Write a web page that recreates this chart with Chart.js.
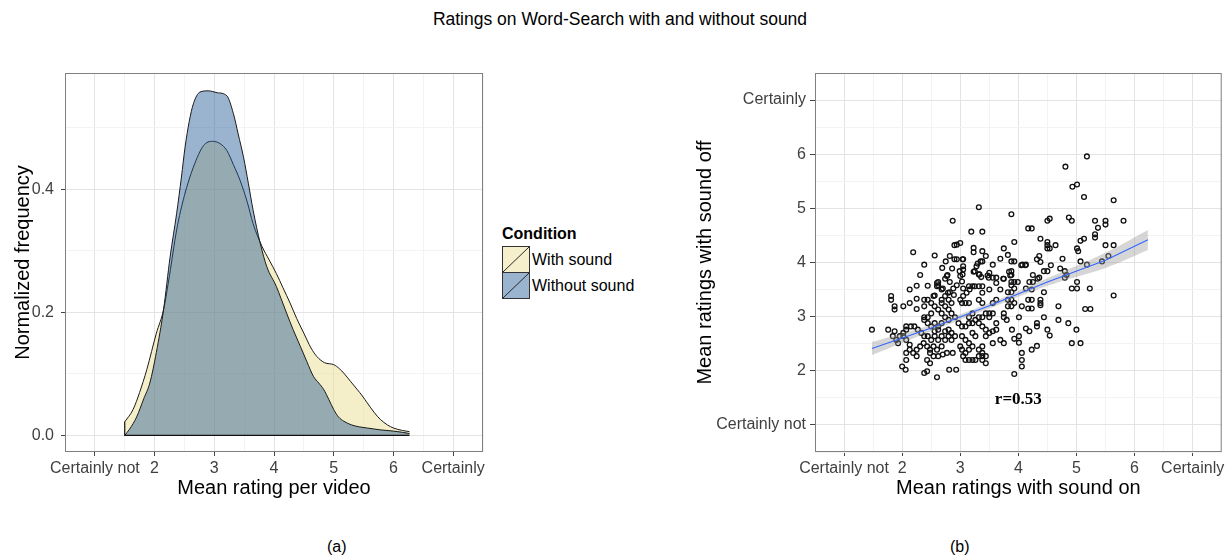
<!DOCTYPE html>
<html>
<head>
<meta charset="utf-8">
<script src="https://cdn.jsdelivr.net/npm/chart.js@4.4.1/dist/chart.umd.min.js"></script>
<style>
  body { margin: 0; background: #fff; font-family: "Liberation Sans", Arial, sans-serif; }
  #page { position: relative; width: 1227px; height: 557px; overflow: hidden; }
  canvas { position: absolute; top: 0; }
  .txt { position: absolute; white-space: nowrap; color: #000; }
  .key { position: absolute; left: 502px; width: 26px; height: 25px; border: 1px solid #333; }
</style>
</head>
<body>
<div id="page">
  <div class="txt" style="left:420px;width:400px;top:9px;text-align:center;font-size:17.5px;">Ratings on Word-Search with and without sound</div>
  <canvas id="chart_density" width="490" height="520" style="left:0px"></canvas>
  <canvas id="chart_scatter" width="547" height="520" style="left:680px"></canvas>

  <div class="txt" style="left:502px;top:225px;font-size:16px;font-weight:bold;">Condition</div>
  <div class="key" id="key_with" style="top:246px;"></div>
  <div class="key" id="key_without" style="top:272px;"></div>
  <div class="txt" style="left:532px;top:251px;font-size:16px;">With sound</div>
  <div class="txt" style="left:532px;top:277px;font-size:16px;">Without sound</div>

  <div class="txt" style="left:327px;top:538px;font-size:16px;">(a)</div>
  <div class="txt" style="left:950px;top:538px;font-size:16px;">(b)</div>
</div>
<script>
const FONT = '"Liberation Sans", Arial, sans-serif';

// density curves
const withSoundX = [1.5, 1.64, 1.75, 1.87, 2.03, 2.15, 2.25, 2.37, 2.5, 2.65, 2.82, 2.97, 3.1, 3.21, 3.32, 3.43, 3.55, 3.65, 3.8, 3.92,
  4.04, 4.15, 4.27, 4.38, 4.5, 4.62, 4.72, 4.85, 5.0, 5.1, 5.17, 5.28, 5.39, 5.48, 5.56, 5.68, 5.78, 5.9, 6.0, 6.15, 6.27];
const withSoundY = [0.022, 0.042, 0.07, 0.107, 0.166, 0.204, 0.26, 0.334, 0.39, 0.436, 0.471, 0.478, 0.474, 0.463, 0.44, 0.415, 0.38, 0.344, 0.307, 0.285,
  0.263, 0.24, 0.215, 0.19, 0.166, 0.142, 0.128, 0.118, 0.115, 0.108, 0.101, 0.088, 0.075, 0.064, 0.053, 0.037, 0.026, 0.017, 0.012, 0.008, 0.006];
const withoutSoundX = [1.5, 1.58, 1.7, 1.82, 1.92, 2.03, 2.15, 2.26, 2.37, 2.45, 2.51, 2.58, 2.65, 2.76, 2.9, 3.05, 3.21, 3.32, 3.4, 3.49,
  3.57, 3.65, 3.77, 3.88, 4.04, 4.12, 4.21, 4.32, 4.44, 4.55, 4.66, 4.75, 4.83, 4.92, 5.0, 5.08, 5.17, 5.3, 5.42, 5.56, 5.78, 6.0, 6.15, 6.27];
const withoutSoundY = [0, 0.01, 0.03, 0.06, 0.085, 0.135, 0.204, 0.29, 0.361, 0.42, 0.468, 0.51, 0.539, 0.558, 0.56, 0.557, 0.552, 0.523, 0.49, 0.452,
  0.41, 0.366, 0.312, 0.274, 0.242, 0.222, 0.199, 0.172, 0.145, 0.12, 0.096, 0.085, 0.075, 0.058, 0.042, 0.03, 0.023, 0.017, 0.014, 0.012, 0.009, 0.007, 0.005, 0.003];
const densityStart = 1.5;
const densityEnd = 6.27;

// tick labels (both panels use the same rating scale)
const ratingTicks = [1, 2, 3, 4, 5, 6, 7];
const ratingLabels = ['Certainly not', '2', '3', '4', '5', '6', 'Certainly'];
const ratingMinor = [0.5, 1.5, 2.5, 3.5, 4.5, 5.5, 6.5, 7.5];
const freqTicks = [0, 0.2, 0.4];
const freqLabels = ['0.0', '0.2', '0.4'];
const freqMinor = [0.1, 0.3, 0.5];

// scatter of mean ratings per video, panel (b)
const ratingsOn = [5.18,4.81,4.93,5.01,5.13,5.64,3.32,3.88,2.87,4.54,
  4.50,4.87,4.92,5.32,5.50,5.50,5.81,5.37,5.32,5.32,
  5.13,5.07,4.17,4.23,3.19,3.38,4.38,4.50,4.50,4.64,
  4.54,4.50,5.01,5.03,5.50,5.64,5.55,5.44,5.07,5.18,
  4.76,4.72,4.56,4.44,4.50,4.38,4.36,4.32,3.93,3.75,
  3.88,3.93,3.82,3.69,3.56,4.07,4.13,4.25,4.36,4.80,
  4.80,4.83,4.92,5.01,5.23,5.01,5.64,4.69,4.69,4.86,
  5.15,5.24,5.00,4.92,5.07,4.50,4.54,4.44,4.38,4.38,
  4.38,4.44,4.32,4.32,4.32,4.23,4.17,4.23,4.17,4.23,
  4.13,4.19,4.25,4.23,4.13,4.19,4.06,4.01,4.01,4.01,
  4.06,4.06,4.06,3.93,3.93,3.89,3.93,3.88,3.82,3.88,
  3.82,3.88,3.82,3.88,3.93,3.99,3.88,3.93,3.88,3.88,
  3.75,3.75,3.75,3.80,3.69,3.75,3.62,3.62,3.56,3.56,
  3.50,3.56,3.56,3.62,3.69,3.62,3.56,3.62,3.50,3.50,
  3.44,3.38,3.23,3.23,3.35,3.38,3.25,3.32,3.38,3.32,
  3.25,3.38,3.32,3.38,3.44,3.50,3.38,3.32,3.26,3.32,
  3.38,3.44,3.50,3.44,3.38,3.32,3.38,3.44,3.38,3.44,
  3.38,3.32,3.26,3.21,3.15,3.09,3.05,3.09,3.15,3.21,
  3.15,3.09,3.03,3.00,3.03,3.21,3.26,3.21,3.15,3.09,
  3.03,2.97,3.15,3.21,3.15,3.09,3.03,3.00,3.05,3.11,
  3.16,3.21,3.15,3.05,3.03,3.00,3.05,3.05,3.05,2.94,
  2.82,2.75,3.00,2.94,2.56,2.19,2.38,2.44,2.31,2.25,
  2.69,2.78,2.74,2.62,2.62,2.82,2.94,2.88,2.82,2.70,
  2.56,2.56,2.50,2.44,2.38,2.25,2.38,2.25,2.13,2.02,
  1.87,1.87,1.81,1.81,2.68,2.74,2.80,2.85,2.68,2.74,
  2.80,2.62,2.68,2.74,2.80,2.85,2.91,2.50,2.44,2.38,
  2.38,2.44,2.50,2.56,2.62,2.68,2.62,2.56,2.74,2.80,
  2.85,2.91,2.85,2.80,2.74,2.68,2.62,2.56,2.50,2.44,
  2.38,2.33,2.27,2.21,2.15,2.07,2.07,2.02,1.96,1.90,
  1.93,1.87,1.84,1.76,1.48,2.02,2.07,2.13,2.07,2.13,
  2.19,2.25,2.25,2.31,2.37,2.43,2.48,2.54,2.60,2.48,
  2.54,2.43,2.48,2.38,2.43,2.60,2.81,2.93,2.70,2.77,
  2.87,2.68,2.62,2.00,2.06,2.07,2.13,
  2.86,2.90,2.90,3.04,3.30,3.28,3.74,3.84,3.86,3.47,
  3.49,3.23,3.33,3.36,2.99,3.04,4.33,4.05,4.12,2.54,
  2.79,2.89,2.68,2.60,2.60,2.77];
const ratingsOff = [5.96,5.77,5.40,5.44,5.21,5.15,5.02,4.89,4.77,4.81,
  4.77,4.83,4.77,4.77,4.77,4.70,4.77,4.64,4.52,4.46,
  4.44,4.40,4.63,4.63,4.57,4.57,4.44,4.38,4.32,4.32,
  4.26,4.26,4.26,4.21,4.32,4.32,4.12,4.02,4.02,3.96,
  4.07,3.89,3.95,3.84,3.84,4.01,4.12,4.06,4.38,4.26,
  4.02,4.02,4.14,4.07,3.96,3.96,3.96,3.77,3.72,3.84,
  3.72,3.77,3.52,3.52,3.52,3.64,3.39,3.19,2.94,2.88,
  3.14,3.14,2.76,2.51,2.51,2.76,2.65,2.99,3.31,3.25,
  3.21,3.45,2.88,2.82,2.46,2.39,3.31,3.31,3.15,3.15,
  3.52,3.64,3.64,3.50,2.78,2.73,3.19,2.99,2.64,2.52,
  2.33,2.20,2.08,1.94,2.59,2.76,3.25,3.19,3.19,3.31,
  3.31,3.45,3.45,3.64,3.64,3.64,3.58,3.52,3.77,3.84,
  3.70,3.06,2.99,2.94,2.57,2.51,2.88,2.76,2.73,2.51,
  2.99,3.06,3.25,3.31,3.50,3.62,3.72,3.72,3.81,3.50,
  4.12,4.21,4.27,4.19,4.02,4.02,3.84,3.78,3.56,3.56,
  3.56,3.44,3.31,3.25,3.06,3.06,2.99,2.99,2.94,2.88,
  2.82,2.76,2.70,2.64,2.45,2.39,2.33,2.27,2.27,2.14,
  2.20,2.27,2.20,2.20,2.20,2.20,2.27,2.33,2.39,2.45,
  2.51,2.57,2.64,2.45,2.39,2.70,2.64,2.88,2.88,2.82,
  2.82,2.88,2.99,3.06,3.25,3.25,3.25,3.31,3.38,3.44,
  3.50,3.56,3.56,3.52,3.65,3.75,3.87,3.93,4.06,4.06,
  4.12,4.02,4.36,4.33,4.13,4.19,3.96,3.57,3.77,3.57,
  3.90,3.77,3.70,3.64,3.58,3.64,3.58,3.52,3.45,3.52,
  3.39,3.19,3.25,3.31,3.31,3.33,3.19,3.14,3.25,3.19,
  3.19,3.13,3.38,3.31,3.31,3.38,3.31,3.25,3.25,3.19,
  3.13,3.13,3.06,2.99,2.94,3.06,2.99,3.06,2.99,2.99,
  2.94,2.88,2.82,2.88,2.82,2.88,2.76,2.73,2.73,2.76,
  2.70,2.64,2.57,2.64,2.57,2.64,2.57,2.64,2.57,2.64,
  2.64,2.70,2.76,2.82,2.82,2.82,2.76,2.70,2.64,2.57,
  2.51,2.73,2.64,2.76,2.76,2.64,2.57,2.48,2.33,2.39,
  2.33,2.39,2.27,2.45,2.51,2.45,2.39,2.45,2.39,2.33,
  2.27,2.20,2.14,1.96,1.99,1.88,2.02,2.02,2.30,2.33,
  2.33,2.45,2.27,2.08,2.02,2.20,3.50,
  3.89,4.32,4.06,4.06,3.98,3.93,3.70,3.83,3.76,3.76,
  3.72,3.83,3.78,3.73,3.84,3.78,3.70,3.95,3.95,3.38,
  3.44,3.40,3.50,3.62,3.56,3.75];

// linear fit and its confidence band
const fitX = [1.48, 2.5, 3.5, 4.5, 5.5, 6.23];
const fitLower = [2.29, 2.73, 3.15, 3.57, 3.90, 4.23];
const fitMid = [2.41, 2.79, 3.20, 3.64, 4.04, 4.42];
const fitUpper = [2.53, 2.85, 3.25, 3.71, 4.18, 4.60];
const corrText = 'r=0.53';
const corrPos = [4.0, 1.46];

const yellowFill = 'rgba(235, 223, 147, 0.5)';
const blueFill = 'rgba(35, 90, 148, 0.46)';
const slash = 'linear-gradient(to bottom right, transparent calc(50% - 0.7px), #222 50%, transparent calc(50% + 0.7px))';
document.getElementById('key_with').style.background = slash + ', #F6EFCC';
document.getElementById('key_without').style.background = slash + ', #9AB3CE';

const toPoints = (xs, ys) => xs.map((x, i) => ({ x: x, y: ys[i] }));

const panelBorder = {
  id: 'panelBorder',
  afterDatasetsDraw(chart) {
    const { ctx, chartArea: a } = chart;
    ctx.save();
    ctx.strokeStyle = '#808080';
    ctx.lineWidth = 1;
    ctx.strokeRect(a.left + 0.5, a.top + 0.5, a.right - a.left - 1, a.bottom - a.top - 1);
    ctx.restore();
  }
};

const corrLabel = {
  id: 'corrLabel',
  afterDatasetsDraw(chart) {
    const ctx = chart.ctx;
    const px = chart.scales.x.getPixelForValue(corrPos[0]);
    const py = chart.scales.y.getPixelForValue(corrPos[1]);
    ctx.save();
    ctx.font = 'bold 17px "Liberation Serif", "Times New Roman", serif';
    ctx.fillStyle = '#000';
    ctx.textAlign = 'center';
    ctx.textBaseline = 'middle';
    ctx.fillText(corrText, px, py);
    ctx.restore();
  }
};

// one axis, ggplot style: major + minor grid, ticks only on major values
function makeAxis(min, max, major, labels, minor, title, size, tickLen, pad) {
  const all = major.concat(minor).sort((a, b) => a - b);
  const isMajor = (v) => major.indexOf(v) >= 0;
  return {
    type: 'linear',
    min: min,
    max: max,
    afterBuildTicks: (scale) => { scale.ticks = all.map((v) => ({ value: v })); },
    afterFit: (scale) => {
      if (scale.isHorizontal()) scale.height = size; else scale.width = size;
    },
    border: { display: false },
    grid: {
      color: (c) => (c.tick && isMajor(c.tick.value) ? '#e3e3e3' : '#f3f3f3'),
      tickColor: (c) => (c.tick && isMajor(c.tick.value) ? '#444' : 'rgba(0,0,0,0)'),
      tickLength: tickLen,
      lineWidth: 1,
    },
    ticks: {
      autoSkip: false,
      maxRotation: 0,
      padding: pad,
      color: '#3f3f3f',
      font: { family: FONT, size: 16 },
      callback: (v) => { const i = major.indexOf(v); return i >= 0 ? labels[i] : ''; },
    },
    title: {
      display: true,
      text: title,
      color: '#000',
      font: { family: FONT, size: 20 },
      padding: { top: 4, bottom: 4 },
    },
  };
}

const chart_density_canvas = document.getElementById('chart_density').getContext('2d');
const chart_density_object = new Chart(chart_density_canvas, {
  type: 'scatter',
  data: {
    datasets: [
      {
        label: 'With sound',
        data: toPoints(withSoundX, withSoundY),
        showLine: true,
        cubicInterpolationMode: 'monotone',
        pointRadius: 0,
        borderColor: '#1a1a1a',
        borderWidth: 1,
        backgroundColor: yellowFill,
        fill: 'origin',
        order: 3,
      },
      {
        label: 'Without sound',
        data: toPoints(withoutSoundX, withoutSoundY),
        showLine: true,
        cubicInterpolationMode: 'monotone',
        pointRadius: 0,
        borderColor: '#1a1a1a',
        borderWidth: 1,
        backgroundColor: blueFill,
        fill: 'origin',
        order: 2,
      },
      {
        label: 'base',
        data: [
          { x: densityStart, y: withSoundY[0] },
          { x: densityStart, y: 0 },
          { x: densityEnd, y: 0 },
        ],
        showLine: true,
        pointRadius: 0,
        borderColor: '#111',
        borderWidth: 1.2,
        fill: false,
        order: 1,
      },
    ],
  },
  options: {
    responsive: false,
    animation: false,
    layout: { padding: { left: 7, right: 7, top: 73, bottom: 16 } },
    plugins: { legend: { display: false }, tooltip: { enabled: false } },
    scales: {
      x: makeAxis(0.5, 7.5, ratingTicks, ratingLabels, ratingMinor, 'Mean rating per video', 52, 4, 3),
      y: makeAxis(-0.027, 0.589, freqTicks, freqLabels, freqMinor, 'Normalized frequency', 58, 4, 7),
    },
  },
  plugins: [panelBorder],
});

const chart_scatter_canvas = document.getElementById('chart_scatter').getContext('2d');
const chart_scatter_object = new Chart(chart_scatter_canvas, {
  type: 'scatter',
  data: {
    datasets: [
      {
        label: 'upper',
        data: toPoints(fitX, fitUpper),
        showLine: true,
        tension: 0.4,
        pointRadius: 0,
        borderWidth: 0,
        borderColor: 'rgba(0,0,0,0)',
        backgroundColor: 'rgba(153, 153, 153, 0.4)',
        fill: '+1',
        order: 2,
      },
      {
        label: 'lower',
        data: toPoints(fitX, fitLower),
        showLine: true,
        tension: 0.4,
        pointRadius: 0,
        borderWidth: 0,
        borderColor: 'rgba(0,0,0,0)',
        fill: false,
        order: 2,
      },
      {
        label: 'fit',
        data: toPoints(fitX, fitMid),
        showLine: true,
        pointRadius: 0,
        borderColor: '#3366FF',
        borderWidth: 1.1,
        fill: false,
        order: 1,
      },
      {
        label: 'videos',
        data: toPoints(ratingsOn, ratingsOff),
        pointRadius: 2.4,
        pointBorderWidth: 1.3,
        borderColor: '#111',
        backgroundColor: 'rgba(0,0,0,0)',
        order: 3,
      },
    ],
  },
  options: {
    responsive: false,
    animation: false,
    layout: { padding: { left: 9, right: 5, top: 73, bottom: 16 } },
    plugins: { legend: { display: false }, tooltip: { enabled: false } },
    scales: {
      x: makeAxis(0.5, 7.5, ratingTicks, ratingLabels, ratingMinor, 'Mean ratings with sound on', 52, 4, 3),
      y: makeAxis(0.5, 7.5, ratingTicks, ratingLabels, ratingMinor, 'Mean ratings with sound off', 126, 5, 4),
    },
  },
  plugins: [panelBorder, corrLabel],
});
</script>
</body>
</html>
